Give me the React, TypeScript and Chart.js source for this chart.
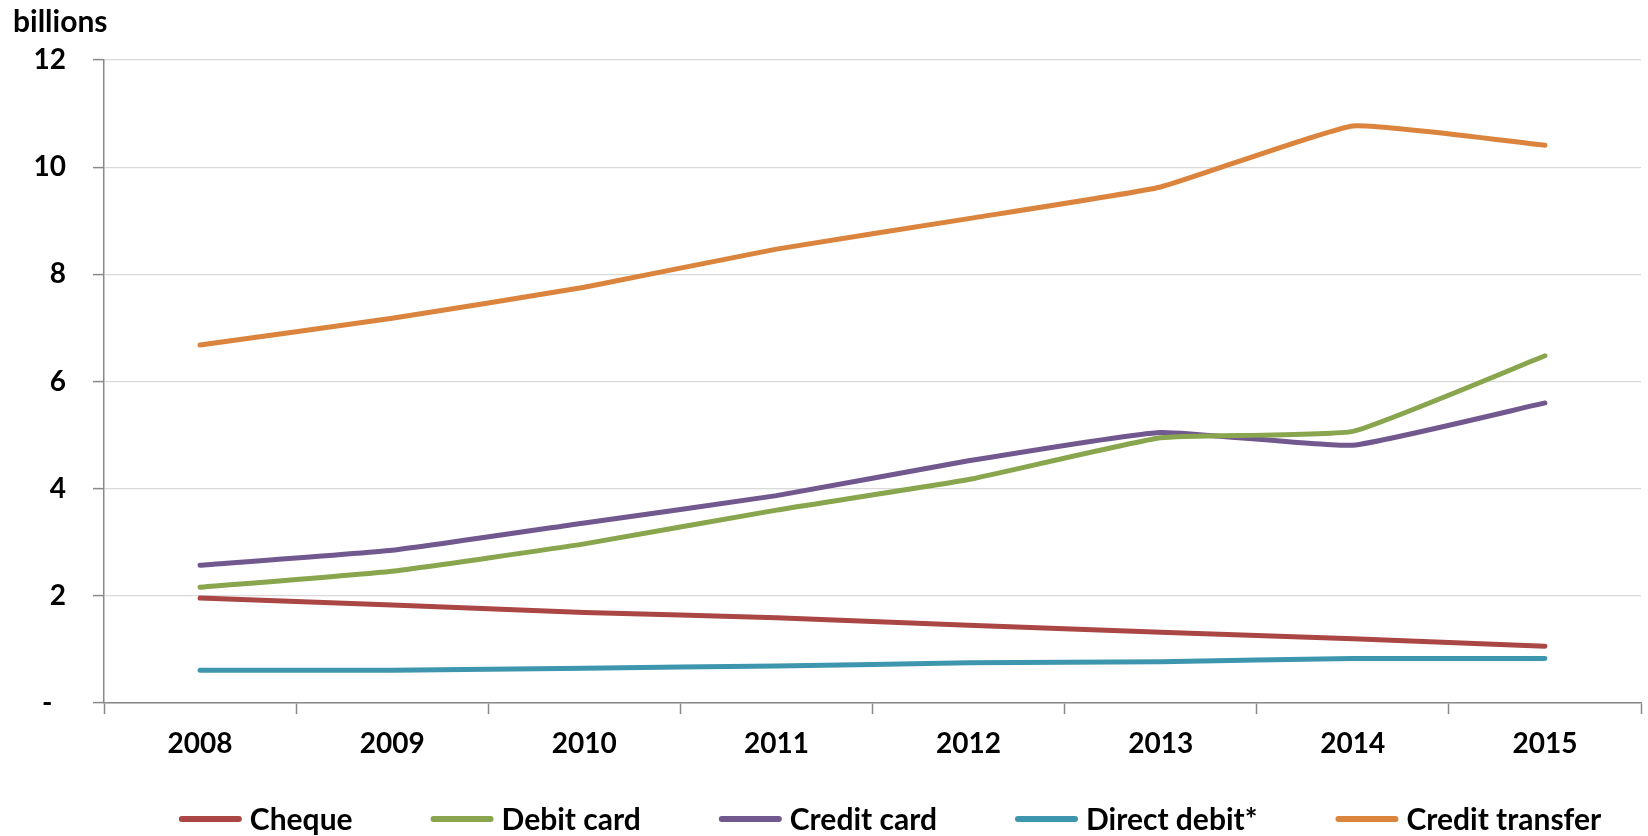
import React, { useEffect, useRef } from 'react';
import { Chart, registerables } from 'chart.js';

Chart.register(...registerables);

const years = ['2008', '2009', '2010', '2011', '2012', '2013', '2014', '2015'];
const cheque = [1.96, 1.83, 1.69, 1.59, 1.45, 1.32, 1.2, 1.06];
const debitCard = [2.16, 2.46, 2.97, 3.6, 4.17, 4.95, 5.07, 6.48];
const creditCard = [2.57, 2.85, 3.36, 3.87, 4.52, 5.05, 4.81, 5.6];
const directDebit = [0.61, 0.61, 0.65, 0.69, 0.75, 0.77, 0.83, 0.83];
const creditTransfer = [6.68, 7.18, 7.76, 8.47, 9.04, 9.63, 10.77, 10.41];
const seriesLabels = ['Cheque', 'Debit card', 'Credit card', 'Direct debit*', 'Credit transfer'];
const seriesColors = ['#AA4643', '#89A54E', '#71588F', '#3D96AE', '#DB843D'];
const yMin = 0;
const yMax = 12;
const yStep = 2;

const FONT = 'Lato, "Open Sans", sans-serif';

const legendPlugin = {
  id: 'lineLegend',
  afterDraw(chart: any) {
    const ctx = chart.ctx;
    ctx.save();
    ctx.font = `bold 30px ${FONT}`;
    const items = chart.data.datasets.map((ds: any) => ({
      label: ds.label,
      color: ds.borderColor,
      w: ctx.measureText(ds.label).width,
    }));
    const lineLen = 63;
    const gap = 8;
    const itemGap = 78;
    const total =
      items.reduce((s: number, it: any) => s + lineLen + gap + it.w, 0) + itemGap * (items.length - 1);
    let x = 890 - total / 2;
    const y = 819;
    items.forEach((it: any) => {
      ctx.strokeStyle = it.color;
      ctx.lineWidth = 6;
      ctx.lineCap = 'round';
      ctx.beginPath();
      ctx.moveTo(x + 3, y);
      ctx.lineTo(x + lineLen - 3, y);
      ctx.stroke();
      ctx.fillStyle = '#000';
      ctx.textBaseline = 'middle';
      ctx.textAlign = 'left';
      ctx.fillText(it.label, x + lineLen + gap, y + 1);
      x += lineLen + gap + it.w + itemGap;
    });
    ctx.restore();
  },
};

export default function App() {
  const canvasRef = useRef<HTMLCanvasElement | null>(null);

  useEffect(() => {
    if (!canvasRef.current) return;
    const seriesData = [cheque, debitCard, creditCard, directDebit, creditTransfer];
    const chart = new Chart(canvasRef.current, {
      type: 'line',
      data: {
        labels: years,
        datasets: seriesData.map((d, i) => ({
          label: seriesLabels[i],
          data: d,
          borderColor: seriesColors[i],
          backgroundColor: seriesColors[i],
          borderWidth: 5,
          pointRadius: 0,
          pointHoverRadius: 0,
          tension: 0.12,
          borderCapStyle: 'round' as const,
          borderJoinStyle: 'round' as const,
          fill: false,
        })),
      },
      options: {
        animation: false,
        responsive: true,
        maintainAspectRatio: false,
        layout: { padding: { left: 13, right: 7, top: 0, bottom: 0 } },
        plugins: {
          legend: { display: false },
          tooltip: { enabled: false },
          title: {
            display: true,
            text: 'billions',
            align: 'start',
            color: '#000',
            font: { family: FONT, size: 30, weight: 'bold' },
            padding: { top: 4, bottom: 20 },
          },
        },
        scales: {
          x: {
            offset: true,
            grid: {
              offset: true,
              drawOnChartArea: false,
              drawTicks: true,
              tickLength: 11,
              tickColor: '#898989',
              tickWidth: 1.5,
            },
            border: { color: '#898989', width: 1.5 },
            ticks: {
              font: { family: FONT, size: 28, weight: 'bold' },
              color: '#000',
              padding: 13,
              maxRotation: 0,
              autoSkip: false,
            },
            afterFit: (s: any) => {
              s.height = 133;
            },
          },
          y: {
            min: yMin,
            max: yMax,
            ticks: {
              stepSize: yStep,
              font: { family: FONT, size: 28, weight: 'bold' },
              color: '#000',
              padding: 27,
              callback: (v: any) => (Number(v) === 0 ? '-  ' : String(v)),
            },
            grid: {
              color: '#D9D9D9',
              lineWidth: 1.2,
              tickLength: 11,
              tickColor: '#898989',
              tickWidth: 1.5,
            },
            border: { color: '#898989', width: 1.5 },
            afterFit: (s: any) => {
              s.width = 91;
            },
          },
        },
      },
      plugins: [legendPlugin],
    });
    return () => chart.destroy();
  }, []);

  return (
    <div style={{ position: 'fixed', left: 0, top: 0, width: 1648, height: 836, background: '#fff' }}>
      <canvas ref={canvasRef} />
    </div>
  );
}
